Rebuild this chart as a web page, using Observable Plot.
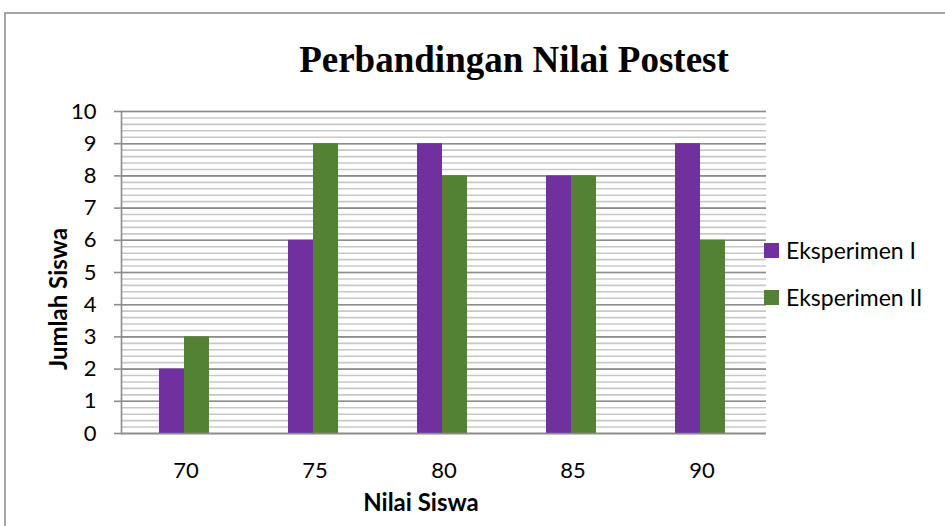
<!DOCTYPE html>
<html>
<head>
<meta charset="utf-8">
<script src="https://cdn.jsdelivr.net/npm/d3@7"></script>
<script src="https://cdn.jsdelivr.net/npm/@observablehq/plot@0.6"></script>
<style>
  html, body { margin: 0; padding: 0; background: #fff; overflow: hidden; }
  #wrap { position: relative; width: 945px; height: 526px; overflow: hidden; font-family: Lato, sans-serif; }
  #frame { position: absolute; left: 4px; top: 12px; width: 960px; height: 600px; border: 2px solid #a6a6a6; box-sizing: border-box; }
  #chart { position: absolute; left: 0; top: 0; }
  .title { position: absolute; left: 0; width: 1028px; top: 41px; text-align: center; font-family: "Liberation Serif", "Times New Roman", serif; font-weight: bold; font-size: 37px; line-height: 37px; color: #000; white-space: nowrap; }
  .ytitle { position: absolute; left: 58px; top: 299px; transform: translate(-50%, -50%) rotate(-90deg); font-weight: bold; font-size: 24px; line-height: 1.2; white-space: nowrap; color: #000; }
  .xtitle { position: absolute; left: 421px; top: 488px; transform: translateX(-50%); font-weight: bold; font-size: 24px; line-height: 1.2; white-space: nowrap; color: #000; }
  .legend .item { position: absolute; left: 764px; display: flex; align-items: center; height: 28px; }
  .legend .sw { width: 15px; height: 15px; margin-right: 7px; }
  .legend .lbl { font-size: 23px; color: #000; white-space: nowrap; }
</style>
</head>
<body>
<div id="wrap">
  <div id="frame"></div>
  <div id="chart"></div>
  <div class="title" id="title"></div>
  <div class="ytitle" id="ytitle"></div>
  <div class="xtitle" id="xtitle"></div>
  <div class="legend" id="legend"></div>
</div>
<script>
const chartTitle = "Perbandingan Nilai Postest";
const yTitle = "Jumlah Siswa";
const xTitle = "Nilai Siswa";
const categories = ["70", "75", "80", "85", "90"];
const series = ["Eksperimen I", "Eksperimen II"];
const eksperimenI = [2, 6, 9, 8, 9];
const eksperimenII = [3, 9, 8, 8, 6];
const colors = ["#7030A0", "#548235"];

const data = categories.flatMap((c, i) => [
  {nilai: c, seri: series[0], jumlah: eksperimenI[i]},
  {nilai: c, seri: series[1], jumlah: eksperimenII[i]}
]);

const chart = Plot.plot({
  width: 945,
  height: 526,
  marginLeft: 119,
  marginRight: 177,
  marginTop: 111,
  marginBottom: 93,
  style: {fontFamily: "Lato, sans-serif", fontSize: "22px", color: "#000", background: "transparent"},
  fx: {domain: categories, padding: 0, label: null},
  x: {domain: series, paddingInner: 0, paddingOuter: 1.56, axis: null},
  y: {domain: [0, 10]},
  color: {domain: series, range: colors},
  marks: [
    Plot.gridY({ticks: 50, stroke: "#c8c8c8", strokeOpacity: 1, strokeWidth: 1.6}),
    Plot.gridY({ticks: 10, stroke: "#8c8c8c", strokeOpacity: 1, strokeWidth: 1.6}),
    Plot.barY(data, {fx: "nilai", x: "seri", y: "jumlah", fill: "seri", dx: -2}),
    Plot.ruleY([0], {stroke: "#8c8c8c", strokeWidth: 1.6}),
    Plot.frame({anchor: "left", facetAnchor: "left", stroke: "#8c8c8c", strokeWidth: 1.6}),
    Plot.axisY({ticks: 10, tickSize: 7, tickPadding: 18, label: null, stroke: "#8c8c8c", strokeWidth: 1.6, fill: "#000"}),
    Plot.axisFx({anchor: "bottom", tickSize: 0, tickPadding: 29, label: null, fill: "#000"})
  ]
});
document.getElementById("chart").appendChild(chart);

document.getElementById("title").textContent = chartTitle;
document.getElementById("ytitle").textContent = yTitle;
document.getElementById("xtitle").textContent = xTitle;
const legend = document.getElementById("legend");
series.forEach((s, i) => {
  const item = document.createElement("div");
  item.className = "item";
  item.style.top = (236 + 47 * i) + "px";
  const sw = document.createElement("div");
  sw.className = "sw";
  sw.style.background = colors[i];
  const lbl = document.createElement("div");
  lbl.className = "lbl";
  lbl.textContent = s;
  item.appendChild(sw);
  item.appendChild(lbl);
  legend.appendChild(item);
});
</script>
</body>
</html>
